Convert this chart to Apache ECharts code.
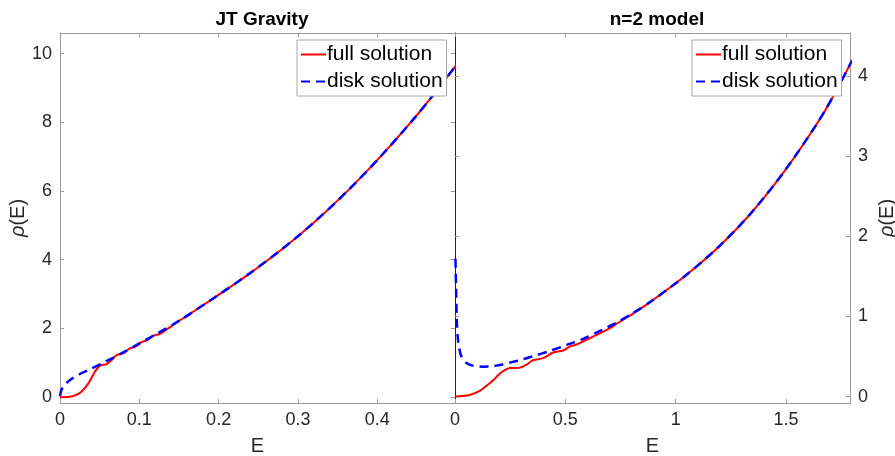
<!DOCTYPE html>
<html>
<head>
<meta charset="utf-8">
<script src="https://cdn.jsdelivr.net/npm/echarts@6/dist/echarts.min.js"></script>
<style>html,body{margin:0;padding:0;background:#fff}#c{width:895px;height:456px}</style>
</head>
<body>
<div id="c"></div>
<script>
// ---- JT Gravity panel ----
const jtDiskE   = [0, 0.002, 0.006, 0.0126, 0.024, 0.036, 0.057, 0.078, 0.099, 0.12, 0.1515, 0.1936, 0.2357, 0.2778, 0.3199, 0.362, 0.404, 0.446, 0.4714, 0.5];
const jtDiskRho = [0.03, 0.22, 0.36, 0.5, 0.66, 0.79, 1.03, 1.28, 1.55, 1.82, 2.24, 2.88, 3.545, 4.27, 5.08, 5.99, 7.0, 8.1, 8.82, 9.68];
const jtFullE   = [0, 0.012, 0.019, 0.027, 0.036, 0.044, 0.0505, 0.059, 0.065, 0.072, 0.08, 0.088, 0.095, 0.103, 0.11, 0.118, 0.126, 0.135, 0.1515, 0.1936, 0.2357, 0.2778, 0.3199, 0.362, 0.404, 0.446, 0.4714, 0.5];
const jtFullRho = [0.0, 0.01, 0.05, 0.16, 0.41, 0.74, 0.92, 0.96, 1.08, 1.23, 1.28, 1.42, 1.47, 1.60, 1.66, 1.79, 1.84, 1.98, 2.24, 2.88, 3.545, 4.27, 5.08, 5.99, 7.0, 8.1, 8.82, 9.68];
// ---- n=2 model panel ----
const n2DiskE   = [0.002, 0.005, 0.008, 0.013, 0.018, 0.029, 0.052, 0.085, 0.127, 0.157, 0.203, 0.248, 0.3, 0.354, 0.43, 0.506, 0.581, 0.657, 0.733, 0.808, 0.884, 1.035, 1.187, 1.338, 1.489, 1.641, 1.716, 1.8];
const n2DiskRho = [1.72, 1.35, 0.96, 0.72, 0.62, 0.50, 0.42, 0.383, 0.374, 0.376, 0.395, 0.424, 0.46, 0.505, 0.57, 0.645, 0.72, 0.82, 0.925, 1.045, 1.18, 1.49, 1.85, 2.28, 2.80, 3.41, 3.76, 4.20];
const n2FullE   = [0, 0.067, 0.112, 0.145, 0.172, 0.2, 0.218, 0.248, 0.28, 0.294, 0.324, 0.354, 0.4, 0.445, 0.49, 0.52, 0.55, 0.596, 0.642, 0.702, 0.733, 0.808, 0.884, 1.035, 1.187, 1.338, 1.489, 1.641, 1.716, 1.8];
const n2FullRho = [0.0, 0.02, 0.07, 0.14, 0.2, 0.28, 0.317, 0.357, 0.358, 0.362, 0.40, 0.455, 0.48, 0.55, 0.575, 0.625, 0.65, 0.71, 0.77, 0.855, 0.91, 1.04, 1.18, 1.49, 1.85, 2.28, 2.80, 3.41, 3.76, 4.20];
// ---- ticks ----
const jtXTicks = [0, 0.1, 0.2, 0.3, 0.4];
const jtYTicks = [0, 2, 4, 6, 8, 10];
const n2XTicks = [0, 0.5, 1, 1.5];
const n2YTicks = [0, 1, 2, 3, 4];
const titles = ['JT Gravity', 'n=2 model'];
const names = ['full solution', 'disk solution'];

const FONT = '"Liberation Sans", Arial, Helvetica, sans-serif';
const TXT = '#262626';
const AX = '#9a9a9a';
const zip = (a, b) => a.map((v, i) => [v, b[i]]);

function mkAxis(type, gridIndex, pos, min, max, ticks, labels, extra) {
  return Object.assign({
    type: 'value', gridIndex, position: pos, min, max,
    splitLine: { show: false },
    axisLine: { show: true, onZero: false, lineStyle: { color: AX, width: 1 } },
    axisTick: { show: true, inside: true, length: 4, lineStyle: { color: AX }, customValues: ticks },
    axisLabel: { show: labels, color: TXT, fontSize: 18, fontFamily: FONT, margin: 8, customValues: ticks },
  }, extra || {});
}
const yName = { rich: { i: { fontStyle: 'italic', fontSize: 20, fontFamily: FONT, color: TXT }, n: { fontSize: 20, fontFamily: FONT, color: TXT } } };

const chart = echarts.init(document.getElementById('c'), null, { renderer: 'canvas' });
const legendBase = {
  orient: 'vertical', top: 40, itemWidth: 25, itemHeight: 12, itemGap: 6,
  padding: [4, 4, 4, 3], borderColor: '#a8a8a8', borderWidth: 1, borderRadius: 0,
  backgroundColor: '#fff', textStyle: { fontSize: 21, fontFamily: FONT, color: '#000', padding: [0, 0, 0, -4] },
  itemStyle: { opacity: 0 },
  data: names, selectedMode: false
};
const gridBase = { top: 33, bottom: 53, containLabel: false, outerBoundsMode: 'none' };
chart.setOption({
  animation: false,
  backgroundColor: '#fff',
  title: [
    { text: titles[0], left: 257, top: 5, textAlign: 'center', textStyle: { fontSize: 19, fontWeight: 'bold', fontFamily: FONT, color: '#000' } },
    { text: titles[1], left: 652, top: 5, textAlign: 'center', textStyle: { fontSize: 19, fontWeight: 'bold', fontFamily: FONT, color: '#000' } }
  ],
  legend: [
    Object.assign({}, legendBase, { left: 297 }),
    Object.assign({}, legendBase, { left: 692 })
  ],
  grid: [
    Object.assign({ left: 60, right: 440 }, gridBase),
    Object.assign({ left: 455, right: 45 }, gridBase)
  ],
  xAxis: [
    mkAxis('x', 0, 'bottom', 0, 0.498, jtXTicks, true, { name: 'E', nameLocation: 'middle', nameGap: 33, nameTextStyle: { fontSize: 20, fontFamily: FONT, color: TXT } }),
    mkAxis('x', 0, 'top', 0, 0.498, jtXTicks, false),
    mkAxis('x', 1, 'bottom', 0, 1.79, n2XTicks, true, { name: 'E', nameLocation: 'middle', nameGap: 33, nameTextStyle: { fontSize: 20, fontFamily: FONT, color: TXT } }),
    mkAxis('x', 1, 'top', 0, 1.79, n2XTicks, false)
  ],
  yAxis: [
    mkAxis('y', 0, 'left', -0.17, 10.6, jtYTicks, true, { name: '{i|ρ}{n|(E)}', nameLocation: 'middle', nameGap: 29, nameTextStyle: yName }),
    mkAxis('y', 0, 'right', -0.17, 10.6, jtYTicks, false),
    mkAxis('y', 1, 'right', -0.08, 4.54, n2YTicks, true, { name: '{i|ρ}{n|(E)}', nameLocation: 'middle', nameGap: 27, nameRotate: 90, nameTextStyle: yName }),
    mkAxis('y', 1, 'left', -0.08, 4.54, n2YTicks, false, { axisLine: { show: true, onZero: false, lineStyle: { color: '#222', width: 1 } } })
  ],
  series: [
    { name: names[0], type: 'line', xAxisIndex: 0, yAxisIndex: 0, data: zip(jtFullE, jtFullRho), showSymbol: false, symbol: 'none', smooth: 0.3, lineStyle: { color: '#ff0000', width: 2 }, itemStyle: { color: '#ff0000' }, z: 2 },
    { name: names[1], type: 'line', xAxisIndex: 0, yAxisIndex: 0, data: zip(jtDiskE, jtDiskRho), showSymbol: false, symbol: 'none', smooth: 0.3, lineStyle: { color: '#0000ff', width: 2.5, type: [9, 6] }, itemStyle: { color: '#0000ff' }, z: 3 },
    { name: names[0], type: 'line', xAxisIndex: 2, yAxisIndex: 2, data: zip(n2FullE, n2FullRho), showSymbol: false, symbol: 'none', smooth: 0.3, lineStyle: { color: '#ff0000', width: 2 }, itemStyle: { color: '#ff0000' }, z: 2 },
    { name: names[1], type: 'line', xAxisIndex: 2, yAxisIndex: 2, data: zip(n2DiskE, n2DiskRho), showSymbol: false, symbol: 'none', smooth: 0.3, lineStyle: { color: '#0000ff', width: 2.5, type: [9, 6] }, itemStyle: { color: '#0000ff' }, z: 3 }
  ]
});
</script>
</body>
</html>
